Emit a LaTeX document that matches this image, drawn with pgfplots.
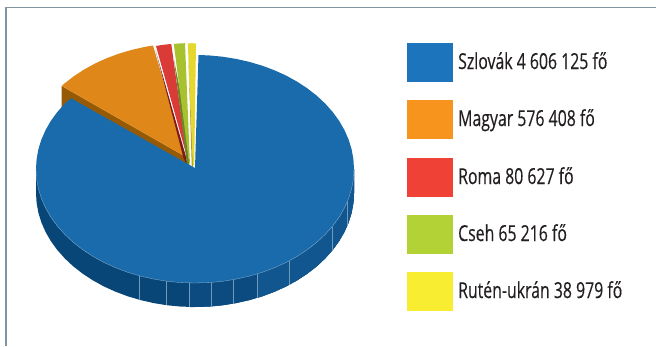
\documentclass[border=0pt]{standalone}
\usepackage{fontspec}
\setmainfont[FakeStretch=0.72,FakeBold=0.35]{Open Sans}
\usepackage{pgfplots}
\pgfplotsset{compat=1.18}
\definecolor{frame}{HTML}{7F949F}
\definecolor{wallA}{HTML}{084677}
\definecolor{wallB}{HTML}{0B4B7F}
\definecolor{wallC}{HTML}{11568E}
\definecolor{rim}{HTML}{8FB4D2}
\definecolor{seam}{HTML}{6F9ABD}
\definecolor{pBlue}{HTML}{1A6BAB}
\definecolor{pOrange}{HTML}{E0871A}
\definecolor{pBrown}{HTML}{965A05}
\definecolor{pRed}{HTML}{DB3B37}
\definecolor{pRedD}{HTML}{7F1A1C}
\definecolor{pGreen}{HTML}{A8C22F}
\definecolor{pGreenD}{HTML}{6B8528}
\definecolor{pYellow}{HTML}{E4D82E}
\definecolor{pYellowD}{HTML}{A79C1F}
\definecolor{lBlue}{HTML}{1C75BC}
\definecolor{lOrange}{HTML}{F7941E}
\definecolor{lRed}{HTML}{EF4136}
\definecolor{lGreen}{HTML}{B2D235}
\definecolor{lYellow}{HTML}{F9ED32}
\definecolor{txt}{HTML}{231F20}
\begin{document}
\begin{tikzpicture}
\begin{axis}[
  scale only axis, width=656pt, height=346pt,
  xmin=0, xmax=656, ymin=0, ymax=346, y dir=reverse,
  hide axis, unbounded coords=jump,
  every axis plot/.append style={line join=round},
]
% frame
\addplot[frame, line width=1.6pt] coordinates {(5.7,346)(5.7,7.3)(656,7.3)};
% side wall
\addplot[fill=wallA, draw=none] coordinates {(36,169)(36,193)(36.6,202.9)(38.4,212.8)(41.4,222.5)(45.6,232)(50.9,241.2)(57.3,250)(64.8,258.4)(73.2,266.3)(82.6,273.6)(92.8,280.3)(103.8,286.4)(115.5,291.7)(127.8,296.3)(140.6,300.1)(153.8,303.1)(167.4,305.3)(181.1,306.6)(195,307)(208.9,306.6)(222.6,305.3)(236.2,303.1)(249.4,300.1)(262.2,296.3)(274.5,291.7)(286.2,286.4)(297.2,280.3)(307.4,273.6)(316.8,266.3)(325.2,258.4)(332.7,250)(339.1,241.2)(344.4,232)(348.6,222.5)(351.6,212.8)(353.4,202.9)(354,193)(354,169)} -- cycle;
\addplot[fill=wallB, draw=none] coordinates {(189.3,169)(189.3,307)(195,307)(208.9,306.6)(222.6,305.3)(236.2,303.1)(249.4,300.1)(262.2,296.3)(274.5,291.7)(286.2,286.4)(297.2,280.3)(307.4,273.6)(316.8,266.3)(325.2,258.4)(332.7,250)(339.1,241.2)(344.4,232)(348.6,222.5)(351.6,212.8)(353.4,202.9)(354,193)(354,169)} -- cycle;
\addplot[fill=wallC, draw=none] coordinates {(257.3,169)(257.3,297.9)(262.2,296.3)(274.5,291.7)(286.2,286.4)(297.2,280.3)(307.4,273.6)(316.8,266.3)(325.2,258.4)(332.7,250)(339.1,241.2)(344.4,232)(348.6,222.5)(351.6,212.8)(353.4,202.9)(354,193)(354,169)} -- cycle;
% seams in the wall
\addplot[seam, line width=0.25pt] coordinates {(139.3,275.8)(139.3,299.8)(nan,nan)(166.3,281.1)(166.3,305.1)(nan,nan)(189.3,283)(189.3,307)(nan,nan)(211.3,282.4)(211.3,306.4)(nan,nan)(233.3,279.6)(233.3,303.6)(nan,nan)(257.3,273.9)(257.3,297.9)(nan,nan)(289.3,260.8)(289.3,284.8)(nan,nan)(332.3,226.5)(332.3,250.5)(nan,nan)(347.3,201.7)(347.3,225.7)};
% exploded slices: inner walls
\addplot[fill=pBrown, draw=none] coordinates {(61.7,86)(186,157)(187,166)(61.7,110)} -- cycle;
% slices: top surfaces with their inner walls
\addplot[fill=pOrange, draw=none] coordinates {(186,157)(61.7,86)(64.2,83.7)(73.6,76.4)(83.8,69.7)(94.8,63.6)(106.5,58.3)(118.8,53.7)(131.6,49.9)(144.8,46.9)(153,45.5)} -- cycle;
\addplot[fill=pRedD, draw=none] coordinates {(155.5,50)(186,157)(187.5,166)(183.5,158)} -- cycle;
\addplot[fill=pRed, draw=none] coordinates {(187,157)(156,46)(163,44.8)(171.3,44)} -- cycle;
\addplot[fill=pGreenD, draw=none] coordinates {(174,60)(182,100)(189,160)(189.5,167)(187,165)} -- cycle;
\addplot[fill=pGreen, draw=none] coordinates {(190,165)(189,162)(173.8,44)(179.5,43.4)(185,43.2)} -- cycle;
\addplot[fill=pYellowD, draw=none] coordinates {(188.5,60)(193,160)(193,167)(191.8,167)} -- cycle;
\addplot[fill=pYellow, draw=none] coordinates {(192.8,165)(187.8,43.4)(192,43.2)(196,43.5)(194.2,165)} -- cycle;
% main slice
\addplot[fill=pBlue, draw=none] coordinates {(195,168)(198.5,55)(208.9,55.4)(222.6,56.7)(236.2,58.9)(249.4,61.9)(262.2,65.7)(274.5,70.3)(286.2,75.6)(297.2,81.7)(307.4,88.4)(316.8,95.7)(325.2,103.6)(332.7,112)(339.1,120.8)(344.4,130)(348.6,139.5)(351.6,149.2)(353.4,159.1)(354,169)(353.4,178.9)(351.6,188.8)(348.6,198.5)(344.4,208)(339.1,217.2)(332.7,226)(325.2,234.4)(316.8,242.3)(307.4,249.6)(297.2,256.3)(286.2,262.4)(274.5,267.7)(262.2,272.3)(249.4,276.1)(236.2,279.1)(222.6,281.3)(208.9,282.6)(195,283)(181.1,282.6)(167.4,281.3)(153.8,279.1)(140.6,276.1)(127.8,272.3)(115.5,267.7)(103.8,262.4)(92.8,256.3)(82.6,249.6)(73.2,242.3)(64.8,234.4)(57.3,226)(50.9,217.2)(45.6,208)(41.4,198.5)(38.4,188.8)(36.6,178.9)(36,169)(36.6,159.1)(38.4,149.2)(41.4,139.5)(45.6,130)(50.9,120.8)(57.3,112)(64.8,103.6)(71,98.2)} -- cycle;
% rim
\addplot[rim, line width=0.3pt] coordinates {(354,169)(353.4,178.9)(351.6,188.8)(348.6,198.5)(344.4,208)(339.1,217.2)(332.7,226)(325.2,234.4)(316.8,242.3)(307.4,249.6)(297.2,256.3)(286.2,262.4)(274.5,267.7)(262.2,272.3)(249.4,276.1)(236.2,279.1)(222.6,281.3)(208.9,282.6)(195,283)(181.1,282.6)(167.4,281.3)(153.8,279.1)(140.6,276.1)(127.8,272.3)(115.5,267.7)(103.8,262.4)(92.8,256.3)(82.6,249.6)(73.2,242.3)(64.8,234.4)(57.3,226)(50.9,217.2)(45.6,208)(41.4,198.5)(38.4,188.8)(36.6,178.9)(36,169)};
% legend swatches
\addplot[fill=lBlue, draw=none] coordinates {(407,43)(453,43)(453,82)(407,82)} -- cycle;
\addplot[fill=lOrange, draw=none] coordinates {(407,100)(453,100)(453,139)(407,139)} -- cycle;
\addplot[fill=lRed, draw=none] coordinates {(407,158)(453,158)(453,197)(407,197)} -- cycle;
\addplot[fill=lGreen, draw=none] coordinates {(407,215)(453,215)(453,254)(407,254)} -- cycle;
\addplot[fill=lYellow, draw=none] coordinates {(407,272)(453,272)(453,311)(407,311)} -- cycle;
% legend text
\tikzset{lt/.style={anchor=base west, inner sep=0pt, text=txt, font=\fontsize{22}{24}\selectfont}}
\node[lt] at (axis cs:458,69) {Szlovák 4 606 125 fő};
\node[lt] at (axis cs:458,126) {Magyar 576 408 fő};
\node[lt] at (axis cs:458,184) {Roma 80 627 fő};
\node[lt] at (axis cs:458,241) {Cseh 65 216 fő};
\node[lt] at (axis cs:458,298) {Rutén-ukrán 38 979 fő};
\end{axis}
\path (0,0) rectangle (656pt,346pt);
\end{tikzpicture}
\end{document}
